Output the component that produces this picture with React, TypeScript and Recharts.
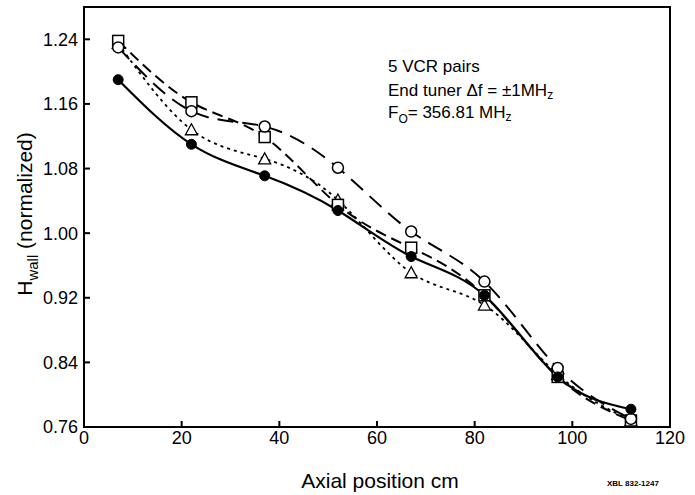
import React from "react";
import {
  LineChart,
  Line,
  XAxis,
  YAxis,
  ReferenceArea,
} from "recharts";

// axial positions (cm) where H_wall was measured
const positions = [7, 22, 37, 52, 67, 82, 97, 112];

const filledCircle = [1.19, 1.11, 1.071, 1.028, 0.971, 0.923, 0.822, 0.782];
const openCircle = [1.23, 1.151, 1.132, 1.081, 1.002, 0.94, 0.833, 0.77];
const openSquare = [1.238, 1.162, 1.119, 1.035, 0.982, 0.923, 0.822, 0.768];
const openTriangle = [1.235, 1.128, 1.092, 1.041, 0.951, 0.911, 0.825, 0.768];

const xTicks = [0, 20, 40, 60, 80, 100, 120];
const yTicks = [0.76, 0.84, 0.92, 1.0, 1.08, 1.16, 1.24];

const data = positions.map((x, i) => ({
  x,
  fc: filledCircle[i],
  oc: openCircle[i],
  sq: openSquare[i],
  tr: openTriangle[i],
}));

const FONT = "'Liberation Sans', Arial, sans-serif";

const dotFilled = (p: any) => (
  <circle key={p.index} cx={p.cx} cy={p.cy} r={5} fill="#000" stroke="#000" />
);
const dotOpen = (p: any) => (
  <circle key={p.index} cx={p.cx} cy={p.cy} r={5.5} fill="#fff" stroke="#000" strokeWidth={1.5} />
);
const dotSquare = (p: any) => (
  <rect key={p.index} x={p.cx - 5.5} y={p.cy - 5.5} width={11} height={11} fill="#fff" stroke="#000" strokeWidth={1.5} />
);
const dotTriangle = (p: any) => (
  <polygon
    key={p.index}
    points={`${p.cx},${p.cy - 6} ${p.cx - 6},${p.cy + 5} ${p.cx + 6},${p.cy + 5}`}
    fill="#fff"
    stroke="#000"
    strokeWidth={1.3}
  />
);

export default function App() {
  return (
    <div style={{ position: "absolute", left: 0, top: 0, width: 695, height: 495, background: "#fff" }}>
      <LineChart
        width={695}
        height={495}
        data={data}
        margin={{ top: 7, right: 25, bottom: 0, left: 0 }}
      >
        <XAxis
          dataKey="x"
          type="number"
          domain={[0, 120]}
          ticks={xTicks}
          height={68}
          tickSize={-6}
          tickMargin={10}
          stroke="#000"
          strokeWidth={2}
          tick={{ fill: "#000", fontSize: 18, fontFamily: FONT }}
        />
        <YAxis
          type="number"
          domain={[0.76, 1.28]}
          ticks={yTicks}
          width={84}
          tickSize={-6}
          tickMargin={12}
          stroke="#000"
          strokeWidth={2}
          tickFormatter={(v: number) => v.toFixed(2)}
          tick={{ fill: "#000", fontSize: 18, fontFamily: FONT }}
        />
        <ReferenceArea
          x1={0}
          x2={120}
          y1={0.76}
          y2={1.28}
          fill="none"
          stroke="#000"
          strokeWidth={2}
          fillOpacity={0}
        />
        <Line
          type="natural"
          dataKey="tr"
          stroke="#000"
          strokeWidth={1.8}
          strokeDasharray="3 4"
          dot={dotTriangle}
          activeDot={false}
          isAnimationActive={false}
        />
        <Line
          type="natural"
          dataKey="sq"
          stroke="#000"
          strokeWidth={2}
          strokeDasharray="11 6"
          dot={dotSquare}
          activeDot={false}
          isAnimationActive={false}
        />
        <Line
          type="natural"
          dataKey="oc"
          stroke="#000"
          strokeWidth={2}
          strokeDasharray="16 9"
          dot={dotOpen}
          activeDot={false}
          isAnimationActive={false}
        />
        <Line
          type="natural"
          dataKey="fc"
          stroke="#000"
          strokeWidth={2.2}
          dot={dotFilled}
          activeDot={false}
          isAnimationActive={false}
        />
      </LineChart>
      <svg
        width={695}
        height={495}
        style={{ position: "absolute", left: 0, top: 0, pointerEvents: "none" }}
        fontFamily={FONT}
      >
        <text x={388} y={72} fontSize={17}>5 VCR pairs</text>
        <text x={388} y={96} fontSize={17}>
          End tuner Δf = ±1MH<tspan fontSize={12} dy={3}>z</tspan>
        </text>
        <text x={388} y={118} fontSize={17}>
          F<tspan fontSize={12} dy={5}>O</tspan>
          <tspan dy={-5}>= 356.81 MH</tspan>
          <tspan fontSize={12} dy={3}>z</tspan>
        </text>
        <text
          transform="translate(32,214) rotate(-90)"
          textAnchor="middle"
          fontSize={21}
        >
          H<tspan fontSize={15} dy={6}>wall</tspan>
          <tspan dy={-6}> (normalized)</tspan>
        </text>
        <text x={380} y={488} textAnchor="middle" fontSize={21}>Axial position cm</text>
        <text x={607} y={486} fontSize={8} fontWeight="bold">XBL 832-1247</text>
      </svg>
    </div>
  );
}
